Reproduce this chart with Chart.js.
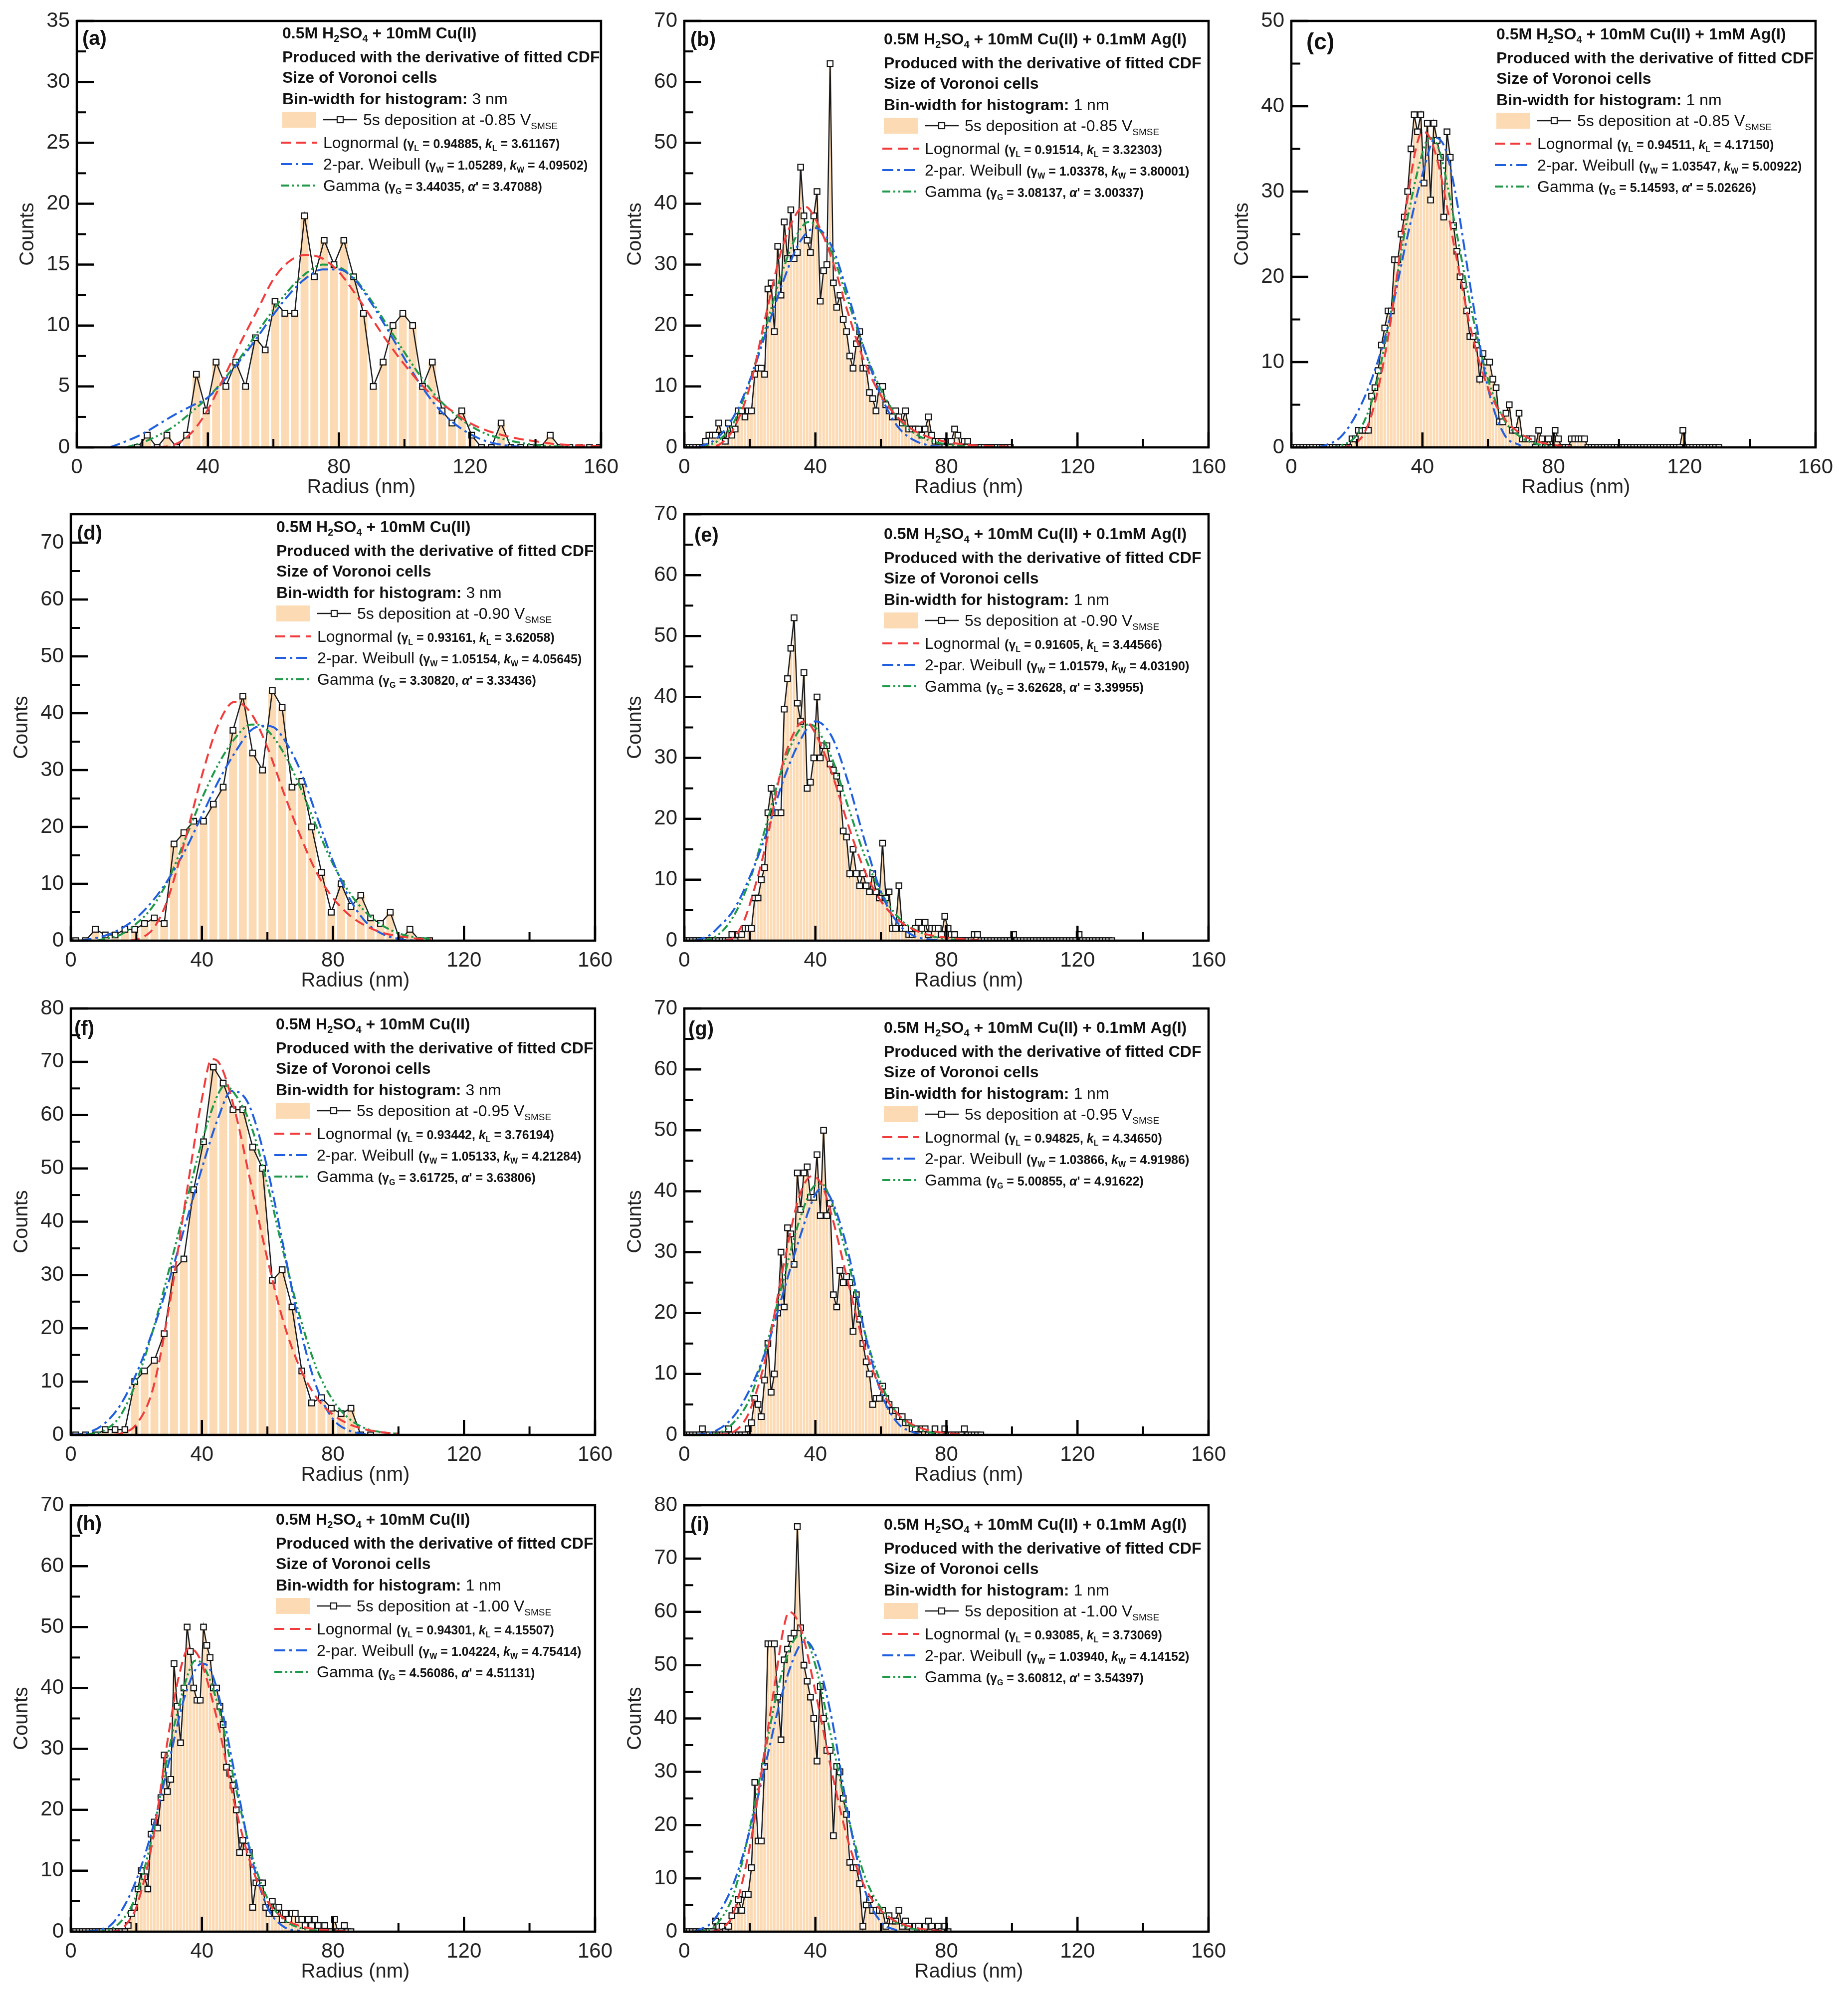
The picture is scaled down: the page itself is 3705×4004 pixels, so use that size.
<!DOCTYPE html>
<html><head><meta charset="utf-8">
<script src="https://cdn.jsdelivr.net/npm/chart.js@4.4.1/dist/chart.umd.min.js"></script>
<style>
html,body{margin:0;padding:0;background:#fff;}
body{width:3705px;height:4004px;position:relative;overflow:hidden;}
canvas{position:absolute;}
</style></head><body>
<script>
// ---------------- DATA ----------------
const panelIds = ['a','b','c','d','e','f','g','h','i'];
const xTicks = [0, 40, 80, 120, 160];
const yMaxes = [35, 70, 50, 75, 70, 80, 70, 70, 80];
const ySteps = [5, 10, 10, 10, 10, 10, 10, 10, 10];
const binStarts = [18.5, 0.5, 0.5, 1.5, 0.5, 1.5, 0.5, 0.5, 0.5];
const binWidths = [3, 1, 1, 3, 1, 3, 1, 1, 1];

const countsA = [0,1,0,1,0,1,6,3,7,5,7,5,9,8,12,11,11,19,14,17,15,17,14,11,5,7,10,11,10,5,7,3,2,3,1,0,0,2,0,0,0,0,1,0,0,0,0,0];
const countsB = [0,0,0,0,0,0,1,2,2,2, 4,2,1,4,2,3,6,6,5,6, 6,12,13,13,12,26,27,19,33,25, 37,31,39,31,32,46,38,34,32,38, 42,24,29,30,63,27,23,25,21,19, 15,13,17,19,13,13,9,8,6,10, 10,7,6,5,6,5,4,6,3,3, 3,3,2,3,5,2,1,1,1,0, 1,1,3,2,0,1,1,0,0,0, 0,0,0,0,0,0,0,0,0,0];
const countsC = [0,0,0,0,0,0,0,0,0,0,0,0,0,0,0,0,0,0, 1,1,2,2,2,2,6,7,9,12,14,16, 16,22,22,25,27,30,35,39,37,39,31,38, 29,38,36,34,27,37,34,26,23,20,19,16, 13,13,12,8,11,10,10,8,7,3,3,4, 5,2,2,4,1,1,1,1,0,2,1,0, 1,0,2,1,0,0,0,1,1,1,1,1, 0,0,0,0,0,0,0,0,0,0,0,0, 0,0,0,0,0,0,0,0,0,0,0,0, 0,0,0,0,0,2,0,0,0,0,0,0, 0,0,0,0,0];
const countsD = [0,0,2,1,1,2,2,3,4,3,17,19,21,21,24,27,37,43,33,30,44,41,27,28,20,12,5,10,6,8,4,3,5,0,2,0,0];
const countsE = [0,0,0,0,0,0,0,0,0,0,0,0,0,0, 1,0,1,1,2,2,2,7,7,10,12,21, 25,21,21,21,38,43,48,53,39,36,44,25, 26,30,40,30,32,32,29,28,27,25,18,17, 11,15,11,9,11,9,8,11,8,7,16,7, 8,2,2,9,2,2,1,1,2,3,2,3, 1,2,2,2,1,4,2,1,1,0,0,0, 0,0,1,1,0,0,0,0,0,0,0,0, 0,0,1,0,0,0,0,0,0,0,0,0, 0,0,0,0,0,0,0,0,0,0,1,0, 0,0,0,0,0,0,0,0,0];
const countsF = [0,0,0,1,1,1,10,12,14,19,31,33,46,55,69,66,61,61,54,50,29,31,24,12,6,7,5,4,5,0,0];
const countsG = [0,0,0,0,0,1,0,0,0,0, 0,0,0,1,0,0,0,0,0,1, 2,6,5,3,9,15,7,10,20,30, 21,34,33,28,43,37,43,44,39,39, 46,36,50,36,38,23,21,27,25,26, 25,17,23,19,15,12,10,5,6,6, 8,6,5,4,4,3,3,2,2,1, 1,0,1,1,0,0,1,0,0,1, 0,0,0,0,0,1,0,0,0,0,0];
const countsH = [0,0,0,0,0,0,0,0,0,0, 0,0,0,0,0,0,0,1,3,4, 7,10,9,7,16,18,17,22,29,23, 25,44,37,31,40,50,46,40,38,38, 50,47,45,40,40,37,34,27,26,24, 20,13,15,14,13,4,8,8,8,4, 3,5,3,4,2,3,2,3,3,2, 2,1,2,1,2,1,0,1,0,0, 2,0,0,1,0,0];
const countsI = [0,0,0,0,0,0,0,0,0,2, 1,1,0,1,3,4,6,4,7,7, 12,28,17,17,31,54,54,54,44,36, 51,53,55,56,76,57,50,47,44,40, 32,46,40,34,34,18,31,30,25,22, 13,12,12,9,1,5,6,4,4,4, 4,1,3,2,2,4,1,2,1,0, 1,1,0,1,2,1,0,1,0,1,0];

// fitted curves: [radius, counts]
const lognA = [[20,0],[25,0.02],[30,0.25],[35,1.2],[40,3.1],[45,5.8],[50,8.6],[55,11.2],[60,13.8],[65,15.3],[70,15.8],[75,15.5],[80,14.4],[85,12.6],[90,10.6],[95,8.6],[100,6.8],[105,5.2],[110,3.9],[115,2.9],[120,2.0],[125,1.4],[130,1.0],[135,0.7],[140,0.5],[145,0.3],[150,0.2],[155,0.15],[160,0.1]];
const weibA = [[10,0],[15,0.5],[20,1.1],[25,1.9],[30,2.7],[35,3.4],[40,4.1],[45,5.5],[50,7.2],[55,9.0],[60,10.9],[65,12.6],[70,13.9],[75,14.6],[80,14.6],[85,13.7],[90,11.8],[95,9.6],[100,7.3],[105,5.1],[110,3.3],[115,2.0],[120,1.1],[125,0.5],[130,0.2],[135,0.05],[140,0]];
const gamA = [[15,0],[20,0.4],[25,1.0],[30,1.8],[35,2.9],[40,4.1],[45,5.6],[50,7.4],[55,9.4],[60,11.3],[65,13.0],[70,14.3],[75,15.0],[80,14.8],[85,13.8],[90,12.0],[95,9.9],[100,7.8],[105,5.8],[110,4.1],[115,2.8],[120,1.8],[125,1.1],[130,0.7],[135,0.4],[140,0.2],[145,0.1],[150,0.05]];

const lognB = [[5,0],[10,0.3],[12,1],[15,3],[20,10],[25,22],[30,33],[35,39],[37,39.5],[40,37.5],[45,31],[50,22],[55,14],[60,8.5],[65,5],[70,2.8],[75,1.6],[80,0.9],[85,0.5],[90,0.3],[95,0.2],[100,0.1]];
const weibB = [[4,0],[5,0.2],[10,1.5],[15,5],[20,11],[25,19],[30,27],[35,33.5],[40,36],[45,33],[50,25],[55,16],[60,8.5],[65,3.5],[70,1.2],[75,0.3],[80,0.1],[85,0]];
const gamB = [[5,0.1],[10,1],[15,4],[20,11],[25,20],[30,29],[35,35.5],[38,37],[40,36.5],[45,32],[50,24],[55,16],[60,9.5],[65,5],[70,2.4],[75,1.1],[80,0.5],[85,0.2],[90,0.1]];

const lognC = [[15,0],[18,0.2],[20,0.6],[22,1.5],[25,4.5],[30,14],[35,28],[38,35],[40,37],[42,36.5],[45,33],[50,23],[55,13.5],[60,7],[65,3.4],[70,1.6],[75,0.7],[80,0.3],[85,0.1]];
const weibC = [[8,0],[10,0.2],[15,1.2],[20,4],[25,8.5],[30,15],[35,24],[40,32],[44,36.3],[47,35],[50,30],[55,18],[60,7],[65,1.5],[70,0.2]];
const gamC = [[12,0],[15,0.2],[20,1.5],[25,6],[30,15],[35,26],[40,34.5],[42,36.3],[45,35],[50,26],[55,16],[60,8],[65,3.2],[70,1.2],[75,0.4],[80,0.1]];

const lognD = [[18,0],[20,0.2],[22,0.6],[25,2],[28,5],[30,8],[35,18],[40,29],[45,38],[50,42],[55,40],[60,34],[65,26],[70,18.5],[75,12],[80,7.5],[85,4.5],[90,2.6],[95,1.4],[100,0.8],[105,0.4],[110,0.2]];
const weibD = [[3,0],[5,0.2],[10,0.8],[15,2],[20,4],[25,7],[30,11],[35,16],[40,22],[45,28],[50,33],[55,37],[59,37.8],[62,37.5],[65,35.5],[70,30],[75,22],[80,14],[85,7.5],[90,3.3],[95,1.2],[100,0.3],[105,0]];
const gamD = [[8,0],[10,0.3],[15,1],[20,3],[25,6],[30,11],[35,18],[40,25],[45,31],[50,35.5],[55,38],[57,38],[60,37],[65,33],[70,27],[75,20],[80,13.5],[85,8.5],[90,5],[95,2.7],[100,1.3],[105,0.6],[110,0.3]];

const lognE = [[12,0],[15,0.5],[18,3],[20,6],[25,16],[30,29],[35,35.5],[37,36],[40,34],[45,27.5],[50,19],[55,11.5],[60,6.5],[65,3.5],[70,1.8],[75,0.9],[80,0.5],[85,0.25],[90,0.1]];
const weibE = [[3,0],[5,0.3],[8,1],[10,2],[15,5],[20,10.5],[25,17.5],[30,26],[35,32.5],[40,36],[45,33.5],[50,26],[55,16.5],[60,8],[65,3],[70,0.8],[75,0.2],[80,0]];
const gamE = [[6,0],[10,0.8],[15,4],[20,10],[25,19],[30,28.5],[35,34.5],[38,35.5],[40,35],[45,30],[50,22],[55,14],[60,8],[65,4],[70,1.9],[75,0.8],[80,0.3],[85,0.1]];

const lognF = [[13,0],[15,0.2],[20,2],[25,8.5],[30,24],[35,44],[40,63],[43,70.5],[45,70],[50,61],[55,47],[60,33],[65,21],[70,12.5],[75,7],[80,3.8],[85,2],[90,1],[95,0.5],[100,0.2]];
const weibF = [[0,0],[5,0.4],[10,2],[15,5.5],[20,11.5],[25,19.5],[30,29],[35,39.5],[40,50],[45,59.5],[49,64.5],[52,64],[55,61],[60,50],[65,35],[70,20],[75,9],[80,3],[85,0.8],[90,0.1]];
const gamF = [[5,0.1],[10,0.8],[15,3.5],[20,10],[25,19.5],[30,31],[35,43],[40,55],[45,64],[47,65.5],[50,64],[55,58],[60,47],[65,34],[70,22],[75,12.5],[80,6.5],[85,3],[90,1.2],[95,0.5],[100,0.2]];

const lognG = [[10,0],[15,0.5],[18,2],[20,4],[25,13],[30,27],[35,39],[39,42.5],[42,41],[45,36],[50,25],[55,14.5],[60,7.5],[65,3.5],[70,1.6],[75,0.7],[80,0.3],[85,0.1]];
const weibG = [[3,0],[5,0.1],[10,0.8],[15,3],[20,7.5],[25,14],[30,23],[35,32],[40,39.5],[42,40.5],[45,38.5],[50,30],[55,17],[60,7],[65,2],[70,0.4],[72,0]];
const gamG = [[8,0],[10,0.2],[15,2],[20,6],[25,14.5],[30,25],[35,35],[40,41],[42,41.2],[45,38],[50,28.5],[55,17],[60,8.5],[65,3.5],[70,1.3],[75,0.4],[80,0.1]];

const lognH = [[12,0],[15,0.3],[18,2],[20,4],[25,15],[30,33],[33,42],[36,46.5],[38,46],[40,44],[45,34],[50,21],[55,11],[60,5],[65,2.2],[70,0.9],[75,0.4],[80,0.15],[85,0.05]];
const weibH = [[5,0],[10,0.5],[12,1],[15,3],[20,8.5],[25,17],[30,28],[35,39],[40,44],[42,43.5],[45,39],[50,26],[55,12.5],[60,4],[65,0.8],[70,0.1]];
const gamH = [[8,0],[10,0.1],[15,1.5],[20,6],[25,16],[30,30],[35,41],[38,44.5],[40,44],[45,37],[50,24.5],[55,13],[60,5.5],[65,2],[70,0.6],[75,0.2],[80,0]];

const lognI = [[8,0],[10,0.2],[12,0.8],[15,3.5],[20,16],[25,36],[28,48],[30,56],[32,60],[34,59],[36,56],[40,45],[45,30],[50,17],[55,8.5],[60,4],[65,1.8],[70,0.8],[75,0.3],[80,0.1]];
const weibI = [[3,0],[5,0.5],[8,1.5],[10,3],[15,9],[20,19],[25,32],[30,45],[35,53.5],[37,54.5],[40,52],[45,40],[50,22],[55,8],[60,1.8],[65,0.2]];
const gamI = [[4,0],[5,0.1],[8,0.5],[10,1.5],[15,7],[20,19.5],[25,35],[30,49],[35,55.5],[37,55],[40,50],[45,36],[50,21.5],[55,10.5],[60,4.5],[65,1.6],[70,0.5],[75,0.1]];

// texts
const electrolyteExtra = ['', ' + 0.1mM Ag(I)', ' + 1mM Ag(I)', '', ' + 0.1mM Ag(I)', '', ' + 0.1mM Ag(I)', '', ' + 0.1mM Ag(I)'];
const potentials = ['-0.85','-0.85','-0.85','-0.90','-0.90','-0.95','-0.95','-1.00','-1.00'];
const lognParams = [['0.94885','3.61167'],['0.91514','3.32303'],['0.94511','4.17150'],['0.93161','3.62058'],['0.91605','3.44566'],['0.93442','3.76194'],['0.94825','4.34650'],['0.94301','4.15507'],['0.93085','3.73069']];
const weibParams = [['1.05289','4.09502'],['1.03378','3.80001'],['1.03547','5.00922'],['1.05154','4.05645'],['1.01579','4.03190'],['1.05133','4.21284'],['1.03866','4.91986'],['1.04224','4.75414'],['1.03940','4.14152']];
const gamParams = [['3.44035','3.47088'],['3.08137','3.00337'],['5.14593','5.02626'],['3.30820','3.33436'],['3.62628','3.39955'],['3.61725','3.63806'],['5.00855','4.91622'],['4.56086','4.51131'],['3.60812','3.54397']];

const countsAll = [countsA,countsB,countsC,countsD,countsE,countsF,countsG,countsH,countsI];
const lognAll = [lognA,lognB,lognC,lognD,lognE,lognF,lognG,lognH,lognI];
const weibAll = [weibA,weibB,weibC,weibD,weibE,weibF,weibG,weibH,weibI];
const gamAll = [gamA,gamB,gamC,gamD,gamE,gamF,gamG,gamH,gamI];

// ---------------- LAYOUT / STYLE ----------------
const FONT = "'Liberation Sans', Arial, Helvetica, sans-serif";
const PL = 160, PR = 40, PT = 40, PB = 130, PW = 1061, PH = 855;
const plotPos = [[154,42],[1372,42],[2589,42],[142,1031],[1372,1031],[142,2022],[1372,2022],[142,3018],[1372,3018]];
const legendOff = [[412,24],[400,36],[411,26],[412,25],[400,39],[411,31],[400,38],[411,28],[400,38]];
const labelOff = [[11,37,40],[12,39,40],[30,44,46],[12,40,40],[20,44,40],[7,42,40],[8,43,40],[11,39,40],[12,41,40]];
const LEGEND_DY = [0,48,89,132,174,220,263,306];
const BAR_COLOR = '#fcdab4';
const RED = '#f23c3c', BLUE = '#1f5fe0', GREEN = '#1e9a48';
const DASH_RED = [20,11], DASH_BLUE = [22,8,5,8], DASH_GREEN = [16,6,4,6,4,6];

function binPoints(start, width, counts) { return counts.map((c, k) => ({x: start + k * width, y: c})); }
function pairPoints(arr) { return arr.map(p => ({x: p[0], y: p[1]})); }

function rich(ctx, x, y, segs) {
  for (const s of segs) {
    ctx.font = s[0];
    ctx.fillText(s[1], x, y + (s[2] || 0));
    x += ctx.measureText(s[1]).width;
  }
  return x;
}

function drawLegend(ctx, a, i) {
  const lx = a.left + legendOff[i][0];
  const ty = a.top + legendOff[i][1];
  const y = LEGEND_DY.map(d => ty + d);
  const B = 'bold 32px ' + FONT, R = '32px ' + FONT, BS = 'bold 20px ' + FONT, RS = '19px ' + FONT;
  const P = 'bold 25px ' + FONT, PI = 'italic bold 25px ' + FONT, PS = 'bold 16px ' + FONT;
  const base = yc => yc + 11;
  ctx.textAlign = 'left'; ctx.textBaseline = 'alphabetic'; ctx.fillStyle = '#111';
  rich(ctx, lx, base(y[0]), [[B,'0.5M H'],[BS,'2',7],[B,'SO'],[BS,'4',7],[B,' + 10mM Cu(II)' + electrolyteExtra[i]]]);
  rich(ctx, lx, base(y[1]), [[B,'Produced with the derivative of fitted CDF']]);
  rich(ctx, lx, base(y[2]), [[B,'Size of Voronoi cells']]);
  rich(ctx, lx, base(y[3]), [[B,'Bin-width for histogram:'],[R,' ' + binWidths[i] + ' nm']]);
  // histogram + line entry
  ctx.fillStyle = BAR_COLOR; ctx.fillRect(lx, y[4] - 16, 68, 32);
  ctx.strokeStyle = '#1a1a1a'; ctx.lineWidth = 2.5; ctx.setLineDash([]);
  ctx.beginPath(); ctx.moveTo(lx + 82, y[4]); ctx.lineTo(lx + 150, y[4]); ctx.stroke();
  ctx.fillStyle = '#fff'; ctx.fillRect(lx + 110, y[4] - 6, 12, 12);
  ctx.lineWidth = 2.2; ctx.strokeRect(lx + 110, y[4] - 6, 12, 12);
  ctx.fillStyle = '#111';
  rich(ctx, lx + 162, base(y[4]), [[R,'5s deposition at ' + potentials[i] + ' V'],[RS,'SMSE',8]]);
  // fit entries
  const entries = [
    [RED, DASH_RED, [[R,'Lognormal '],[P,'(\u03b3'],[PS,'L',6],[P,' = ' + lognParams[i][0] + ', '],[PI,'k'],[PS,'L',6],[P,' = ' + lognParams[i][1] + ')']]],
    [BLUE, DASH_BLUE, [[R,'2-par. Weibull '],[P,'(\u03b3'],[PS,'W',6],[P,' = ' + weibParams[i][0] + ', '],[PI,'k'],[PS,'W',6],[P,' = ' + weibParams[i][1] + ')']]],
    [GREEN, DASH_GREEN, [[R,'Gamma '],[P,'(\u03b3'],[PS,'G',6],[P,' = ' + gamParams[i][0] + ', '],[PI,'\u03b1'],[P,'\' = ' + gamParams[i][1] + ')']]]
  ];
  entries.forEach((e, j) => {
    const yy = y[5 + j];
    ctx.strokeStyle = e[0]; ctx.lineWidth = 4; ctx.setLineDash(e[1]);
    ctx.beginPath(); ctx.moveTo(lx - 3, yy); ctx.lineTo(lx + 70, yy); ctx.stroke();
    ctx.setLineDash([]);
    ctx.fillStyle = '#111';
    rich(ctx, lx + 82, base(yy), e[2]);
  });
}

function decorPlugin(i) {
  return {
    id: 'decor' + i,
    afterDraw(chart) {
      const ctx = chart.ctx, a = chart.chartArea, xs = chart.scales.x, ys = chart.scales.y;
      ctx.save();
      ctx.strokeStyle = '#000'; ctx.lineCap = 'butt'; ctx.setLineDash([]);
      // inward x ticks (major + minor)
      for (let k = 0; k < xTicks.length; k++) {
        const v = xTicks[k];
        const px = xs.getPixelForValue(v);
        ctx.lineWidth = 4.5;
        ctx.beginPath(); ctx.moveTo(px, a.bottom); ctx.lineTo(px, a.bottom - 30); ctx.stroke();
        if (k < xTicks.length - 1) {
          const pm = xs.getPixelForValue((v + xTicks[k + 1]) / 2);
          ctx.lineWidth = 4;
          ctx.beginPath(); ctx.moveTo(pm, a.bottom); ctx.lineTo(pm, a.bottom - 17); ctx.stroke();
        }
      }
      // inward y ticks
      const st = ySteps[i], ym = yMaxes[i];
      for (let m = 0; m * st / 2 <= ym + 1e-9; m++) {
        const v = m * st / 2;
        const py = ys.getPixelForValue(v);
        const major = m % 2 === 0;
        ctx.lineWidth = major ? 4.5 : 4;
        ctx.beginPath(); ctx.moveTo(a.left, py); ctx.lineTo(a.left + (major ? 34 : 18), py); ctx.stroke();
      }
      // frame
      ctx.lineWidth = 4.5;
      ctx.strokeRect(a.left, a.top, a.right - a.left, a.bottom - a.top);
      // x axis title
      ctx.fillStyle = '#222'; ctx.textAlign = 'center'; ctx.textBaseline = 'middle';
      ctx.font = '40px ' + FONT;
      ctx.fillText('Radius (nm)', (a.left + a.right) / 2 + 45, a.bottom + 81);
      // panel label
      ctx.fillStyle = '#111'; ctx.textAlign = 'left';
      ctx.font = 'bold ' + labelOff[i][2] + 'px ' + FONT;
      ctx.fillText('(' + panelIds[i] + ')', a.left + labelOff[i][0], a.top + labelOff[i][1]);
      drawLegend(ctx, a, i);
      ctx.restore();
    }
  };
}

function makePanel(i) {
  const cv = document.createElement('canvas');
  const W = PL + PW + PR, H = PT + PH + PB;
  cv.width = W; cv.height = H;
  cv.style.width = W + 'px'; cv.style.height = H + 'px';
  cv.style.left = (plotPos[i][0] - PL) + 'px';
  cv.style.top = (plotPos[i][1] - PT) + 'px';
  document.body.appendChild(cv);
  const pts = binPoints(binStarts[i], binWidths[i], countsAll[i]);
  const fitStyle = (data, color, dash) => ({
    type: 'line', data: pairPoints(data), borderColor: color, borderWidth: 4, borderDash: dash,
    pointRadius: 0, cubicInterpolationMode: 'monotone', fill: false, order: 1
  });
  new Chart(cv.getContext('2d'), {
    type: 'bar',
    data: {
      datasets: [
        fitStyle(lognAll[i], RED, DASH_RED),
        fitStyle(weibAll[i], BLUE, DASH_BLUE),
        fitStyle(gamAll[i], GREEN, DASH_GREEN),
        { type: 'line', data: pts, borderColor: '#1a1a1a', borderWidth: 2.5, tension: 0,
          pointStyle: 'rect', pointRadius: 8, pointBorderWidth: 2.2,
          pointBackgroundColor: '#ffffff', pointBorderColor: '#111', fill: false, order: 4 },
        { type: 'bar', data: pts.map(p => ({x: p.x, y: p.y})), backgroundColor: BAR_COLOR, borderWidth: 0,
          barPercentage: 0.8, categoryPercentage: 1, order: 10 }
      ]
    },
    options: {
      responsive: false, animation: false, devicePixelRatio: 1,
      layout: { padding: { top: PT, right: PR, left: 0, bottom: 0 } },
      scales: {
        x: { type: 'linear', min: 0, max: 160, offset: false,
             grid: { display: false, drawTicks: false }, border: { display: false },
             ticks: { stepSize: 40, padding: 15, includeBounds: false, maxRotation: 0, autoSkip: false,
                      font: { family: FONT, size: 42 }, color: '#222' },
             afterFit(s) { s.height = PB; } },
        y: { type: 'linear', min: 0, max: yMaxes[i],
             grid: { display: false, drawTicks: false }, border: { display: false },
             ticks: { stepSize: ySteps[i], padding: 14, includeBounds: false, autoSkip: false,
                      font: { family: FONT, size: 42 }, color: '#222' },
             title: { display: true, text: 'Counts', font: { family: FONT, size: 40 }, color: '#222',
                      padding: { top: 38, bottom: 0 } },
             afterFit(s) { s.width = PL; } }
      },
      plugins: { legend: { display: false }, tooltip: { enabled: false } }
    },
    plugins: [decorPlugin(i)]
  });
}

for (let i = 0; i < panelIds.length; i++) makePanel(i);
</script>
</body></html>
